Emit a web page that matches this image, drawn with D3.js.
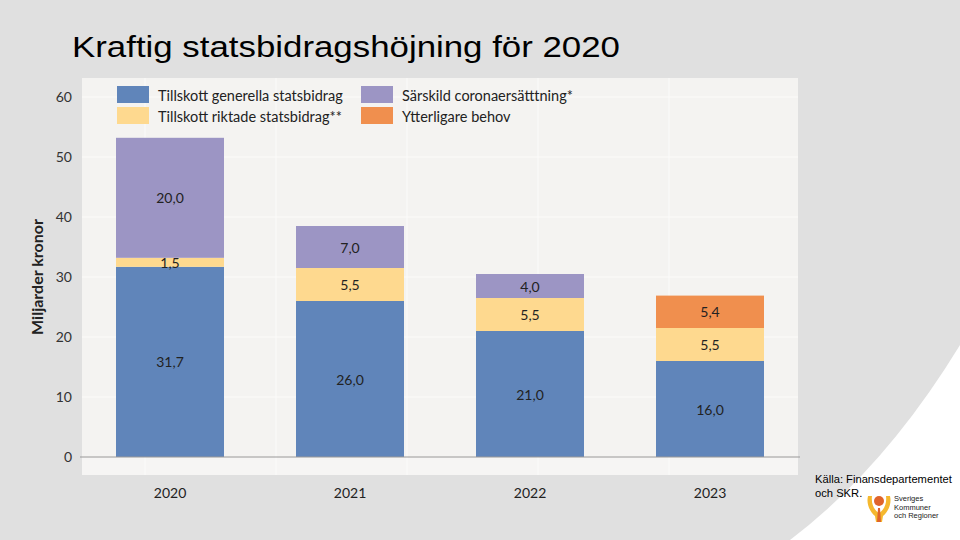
<!DOCTYPE html>
<html><head><meta charset="utf-8">
<script src="https://cdn.jsdelivr.net/npm/d3@7"></script>
<style>html,body{margin:0;padding:0;background:#e0e0e0;}svg{display:block;}</style>
</head><body>
<svg id="c" width="960" height="540"></svg>
<script>
const years = ["2020", "2021", "2022", "2023"];
const seriesNames = ["Tillskott generella statsbidrag", "Tillskott riktade statsbidrag**", "Särskild coronaersätttning*", "Ytterligare behov"];
const generella = [31.7, 26.0, 21.0, 16.0];
const riktade = [1.5, 5.5, 5.5, 5.5];
const corona = [20.0, 7.0, 4.0, 0];
const ytterligare = [0, 0, 0, 5.4];
const yTicks = [0, 10, 20, 30, 40, 50, 60];
const colors = ["#6085ba", "#fed98f", "#9c95c4", "#f08f4e"];

const svg = d3.select("#c");
const W = 960, H = 540;
svg.append("rect").attr("width", W).attr("height", H).attr("fill", "#e0e0e0");
// white corner shape
svg.append("path").attr("d", "M960,345 Q885,468 790,540 L960,540 Z").attr("fill", "#ffffff");

// title
svg.append("text").attr("x", 72).attr("y", 57)
  .attr("font-family", "Liberation Sans, Arial, sans-serif").attr("font-size", 29)
  .attr("textLength", 548).attr("lengthAdjust", "spacingAndGlyphs")
  .attr("fill", "#000").text("Kraftig statsbidragshöjning för 2020");

// panel
svg.append("rect").attr("x", 82).attr("y", 78).attr("width", 716).attr("height", 397).attr("fill", "#f4f3f1");
svg.append("rect").attr("x", 82).attr("y", 458).attr("width", 716).attr("height", 17).attr("fill", "#f6f5f4");

const x = d3.scaleBand().domain(years).range([80, 800]).paddingInner(0.4).paddingOuter(0.2);
const y = d3.scaleLinear().domain([0, 60]).range([457, 97]);

// vertical faint grid
const vg = [145, 276, 407, 538, 669];
svg.selectAll(".vg").data(vg).enter().append("line")
  .attr("x1", d => d).attr("x2", d => d).attr("y1", 78).attr("y2", 475)
  .attr("stroke", "#fbfbfa").attr("stroke-width", 1);
// horizontal grid
svg.selectAll(".hg").data(yTicks.filter(d => d > 0)).enter().append("line")
  .attr("x1", 82).attr("x2", 798).attr("y1", d => y(d)).attr("y2", d => y(d))
  .attr("stroke", "#fbfbfa").attr("stroke-width", 1.2);

// stacked data
const rows = years.map((yr, i) => ({year: yr, s0: generella[i], s1: riktade[i], s2: corona[i], s3: ytterligare[i]}));
const stack = d3.stack().keys(["s0", "s1", "s2", "s3"]);
const stacked = stack(rows);

const fmt = v => v.toFixed(1).replace(".", ",");
const g = svg.append("g");
stacked.forEach((layer, li) => {
  layer.forEach((d, i) => {
    const v = d[1] - d[0];
    if (v <= 0) return;
    g.append("rect").attr("x", x(years[i])).attr("width", x.bandwidth())
      .attr("y", y(d[1])).attr("height", y(d[0]) - y(d[1])).attr("fill", colors[li]);
    g.append("text").attr("x", x(years[i]) + x.bandwidth() / 2).attr("y", (y(d[0]) + y(d[1])) / 2)
      .attr("text-anchor", "middle").attr("dominant-baseline", "central")
      .attr("font-family", "Lato, sans-serif").attr("font-size", 14).attr("fill", "#222")
      .text(fmt(v));
  });
});

// axis line
svg.append("line").attr("x1", 80).attr("x2", 800).attr("y1", y(0)).attr("y2", y(0)).attr("stroke", "#9a9a9a").attr("stroke-width", 1.2);

// y axis
const yAxis = svg.append("g").attr("transform", "translate(72,0)")
  .call(d3.axisLeft(y).tickValues(yTicks).tickSize(0).tickPadding(0));
yAxis.select(".domain").remove();
yAxis.selectAll("text").attr("font-family", "Lato, sans-serif").attr("font-size", 14).attr("fill", "#333");

svg.append("text").attr("transform", "translate(43,277) rotate(-90)")
  .attr("text-anchor", "middle").attr("font-family", "Lato, sans-serif").attr("font-weight", "bold")
  .attr("font-size", 16).attr("fill", "#222").text("Miljarder kronor");

// x axis labels
const xAxis = svg.append("g").attr("transform", "translate(0,491)")
  .call(d3.axisBottom(x).tickSize(0).tickPadding(0));
xAxis.select(".domain").remove();
xAxis.selectAll("text").attr("font-family", "Lato, sans-serif").attr("font-size", 14).attr("fill", "#222").attr("dy", "0.5em");

// legend
const legendPos = [[117, 86], [117, 107], [361, 86], [361, 107]];
const legendOrder = [0, 1, 2, 3];
legendOrder.forEach((si, k) => {
  const [lx, ly] = legendPos[k];
  svg.append("rect").attr("x", lx).attr("y", ly).attr("width", 32).attr("height", 17).attr("fill", colors[si]);
  svg.append("text").attr("x", lx + 41).attr("y", ly + 9).attr("dominant-baseline", "central")
    .attr("font-family", "Lato, sans-serif").attr("font-size", 14.5).attr("fill", "#222")
    .text(seriesNames[si]);
});

// source
const src = svg.append("text").attr("font-family", "Liberation Sans, Arial, sans-serif").attr("font-size", 11.2).attr("fill", "#000");
src.append("tspan").attr("x", 815).attr("y", 483).text("Källa: Finansdepartementet");
src.append("tspan").attr("x", 815).attr("y", 497).text("och SKR.");

// logo
const lg = svg.append("g").attr("transform", "translate(866,492)");
lg.append("path").attr("d", "M2,4 C0,12 4,20 9,24 L10,30 L14,30 L14,22 C8,18 5,12 6,4 Z").attr("fill", "#f5b82e");
lg.append("path").attr("d", "M24,4 C26,12 22,20 17,24 L16,30 L12,30 L12,22 C18,18 21,12 20,4 Z").attr("fill", "#f5b82e");
lg.append("circle").attr("cx", 13).attr("cy", 9).attr("r", 5).attr("fill", "#e0642a");
lg.append("path").attr("d", "M12,16 L14,16 L15,30 L11,30 Z").attr("fill", "#e0642a");
const lt = svg.append("text").attr("font-family", "Liberation Sans, Arial, sans-serif").attr("font-size", 7.5).attr("fill", "#222");
["Sveriges", "Kommuner", "och Regioner"].forEach((t, i) => lt.append("tspan").attr("x", 894).attr("y", 501 + i * 8.5).text(t));
</script>
</body></html>
